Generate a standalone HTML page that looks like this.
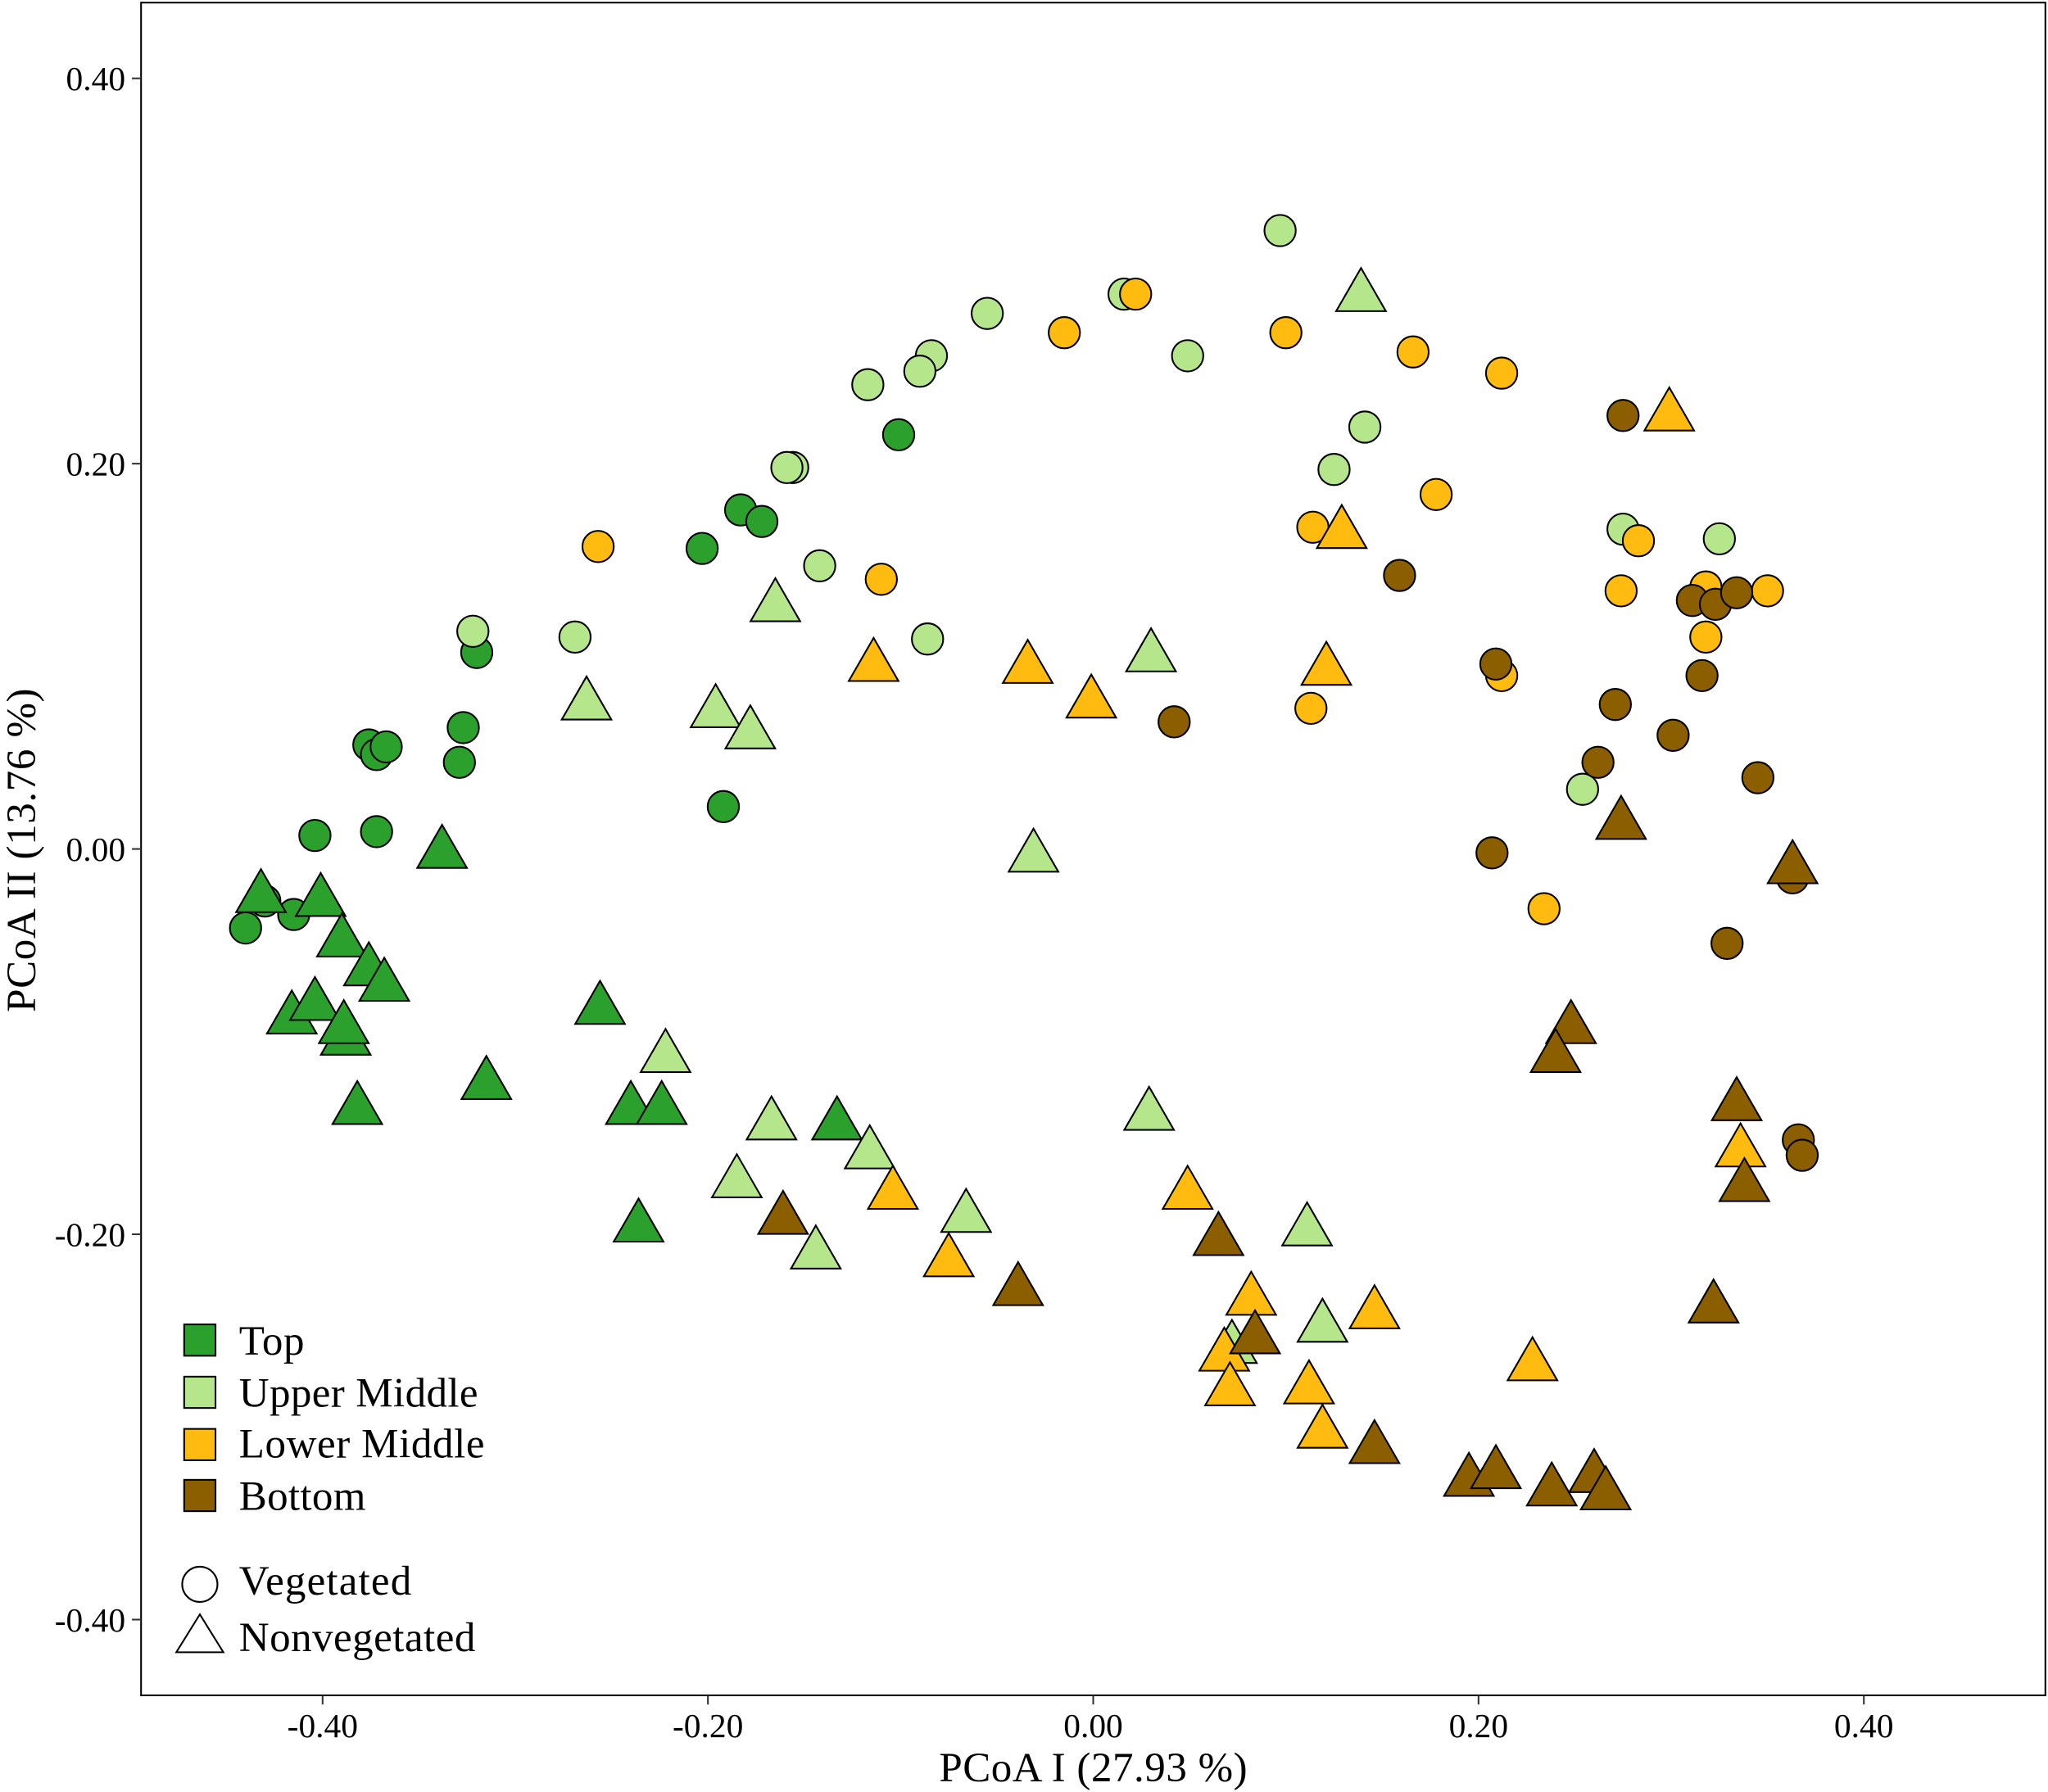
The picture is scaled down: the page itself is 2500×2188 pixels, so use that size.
<!DOCTYPE html>
<html><head><meta charset="utf-8"><style>html,body{margin:0;padding:0;background:#fff}svg{display:block}</style></head>
<body>
<svg id="chart" width="2500" height="2188" viewBox="0 0 1568 1372" preserveAspectRatio="none" xmlns="http://www.w3.org/2000/svg" font-family="'Liberation Serif', serif">
<rect x="108" y="2" width="1458" height="1296" fill="#fff" stroke="#000" stroke-width="1.3"/>
<g id="axes"></g>
<g id="points"></g>
<g id="legend">
  <rect x="141" y="1014" width="24" height="24" fill="#2ca02c" stroke="#000" stroke-width="1.3"/>
  <text x="183" y="1037" font-size="32" textLength="50">Top</text>
  <rect x="141" y="1054" width="24" height="24" fill="#b5e68c" stroke="#000" stroke-width="1.3"/>
  <text x="183" y="1077" font-size="32" textLength="183">Upper Middle</text>
  <rect x="141" y="1094" width="24" height="24" fill="#ffbb0f" stroke="#000" stroke-width="1.3"/>
  <text x="183" y="1116" font-size="32" textLength="188">Lower Middle</text>
  <rect x="141" y="1133" width="24" height="24" fill="#8b5e00" stroke="#000" stroke-width="1.3"/>
  <text x="183" y="1156" font-size="32" textLength="97">Bottom</text>
  <circle cx="153" cy="1213" r="13.5" fill="#fff" stroke="#000" stroke-width="1.3"/>
  <text x="183" y="1221" font-size="32" textLength="132">Vegetated</text>
  <polygon points="153,1236 135,1265 171,1265" fill="#fff" stroke="#000" stroke-width="1.3"/>
  <text x="183" y="1264" font-size="32" textLength="181">Nonvegetated</text>
</g>
<text x="837" y="1364" font-size="32" text-anchor="middle" textLength="236">PCoA I (27.93 %)</text>
<text x="0" y="0" font-size="32" text-anchor="middle" textLength="248" transform="translate(27,651) rotate(-90)">PCoA II (13.76 %)</text>
</svg>
<script>
const xTicks=[-0.4,-0.2,0,0.2,0.4];
const yTicks=[-0.4,-0.2,0,0.2,0.4];
const groups=["Top","Upper Middle","Lower Middle","Bottom"];
const groupColors=["#2ca02c","#b5e68c","#ffbb0f","#8b5e00"];
// Vegetated (circles)
const topCircX=[-0.101,-0.183,-0.172,-0.203,-0.320,-0.327,-0.329,-0.376,-0.372,-0.367,-0.404,-0.372,-0.192,-0.440,-0.430,-0.415];
const topCircY=[0.215,0.176,0.170,0.156,0.102,0.063,0.045,0.054,0.049,0.053,0.007,0.009,0.022,-0.041,-0.027,-0.034];
const umCircX=[0.097,0.016,-0.055,-0.084,-0.090,-0.117,0.049,-0.156,-0.159,0.141,0.125,-0.142,-0.269,-0.322,-0.086,0.275,0.325,0.254];
const umCircY=[0.321,0.288,0.278,0.256,0.248,0.241,0.256,0.198,0.198,0.219,0.197,0.147,0.110,0.113,0.109,0.166,0.161,0.031];
const lmCircX=[-0.015,0.022,0.100,0.166,0.212,0.178,0.114,0.283,-0.257,-0.110,0.274,0.318,0.350,0.318,0.212,0.113,0.234];
const lmCircY=[0.268,0.288,0.268,0.258,0.247,0.184,0.167,0.160,0.157,0.140,0.134,0.136,0.134,0.110,0.090,0.073,-0.031];
const btCircX=[0.275,0.159,0.042,0.209,0.271,0.262,0.301,0.311,0.323,0.334,0.316,0.345,0.207,0.363,0.329,0.366,0.368];
const btCircY=[0.225,0.142,0.066,0.096,0.075,0.045,0.059,0.129,0.127,0.133,0.090,0.037,-0.002,-0.015,-0.049,-0.151,-0.159];
// Nonvegetated (triangles)
const topTriX=[-0.338,-0.432,-0.401,-0.390,-0.376,-0.368,-0.416,-0.404,-0.388,-0.389,-0.382,-0.315,-0.256,-0.240,-0.224,-0.133,-0.236];
const topTriY=[-0.001,-0.024,-0.026,-0.047,-0.062,-0.070,-0.087,-0.080,-0.098,-0.092,-0.134,-0.121,-0.082,-0.134,-0.134,-0.142,-0.195];
const umTriX=[0.139,-0.165,-0.263,-0.196,-0.178,0.030,-0.031,-0.222,-0.167,0.029,-0.116,-0.185,-0.144,-0.066,0.111,0.119,0.072];
const umTriY=[0.288,0.127,0.076,0.072,0.061,0.101,-0.003,-0.107,-0.142,-0.137,-0.157,-0.172,-0.209,-0.190,-0.197,-0.247,-0.258];
const lmTriX=[0.299,0.129,-0.114,-0.034,-0.001,0.121,-0.104,0.049,-0.075,0.082,0.068,0.071,0.146,0.112,0.119,0.228,0.336];
const lmTriY=[0.226,0.165,0.096,0.095,0.077,0.094,-0.178,-0.178,-0.213,-0.233,-0.262,-0.280,-0.240,-0.279,-0.302,-0.267,-0.156];
const btTriX=[0.274,0.363,0.248,0.240,0.334,0.338,0.322,-0.161,-0.039,0.065,0.084,0.146,0.195,0.209,0.238,0.260,0.266];
const btTriY=[0.014,-0.009,-0.092,-0.107,-0.132,-0.174,-0.237,-0.191,-0.228,-0.202,-0.253,-0.310,-0.327,-0.323,-0.332,-0.325,-0.334];

const NS="http://www.w3.org/2000/svg";
function sx(v){return 837+v*1475;}
function sy(v){return 650-v*1475;}
function fmt(v){return v.toFixed(2);}
const axes=document.getElementById('axes');
xTicks.forEach(t=>{
  const l=document.createElementNS(NS,'line');
  l.setAttribute('x1',sx(t));l.setAttribute('x2',sx(t));l.setAttribute('y1',1298);l.setAttribute('y2',1305);
  l.setAttribute('stroke','#333');l.setAttribute('stroke-width','1.3');
  
  
  axes.appendChild(l);
  const tx=document.createElementNS(NS,'text');
  tx.setAttribute('x',sx(t));tx.setAttribute('y',1330);tx.setAttribute('font-size','26');tx.setAttribute('text-anchor','middle');
  tx.textContent=fmt(t);
  
  
  axes.appendChild(tx);
});
yTicks.forEach(t=>{
  const l=document.createElementNS(NS,'line');
  l.setAttribute('x1',101);l.setAttribute('x2',108);l.setAttribute('y1',sy(t));l.setAttribute('y2',sy(t));
  l.setAttribute('stroke','#333');l.setAttribute('stroke-width','1.3');
  
  
  axes.appendChild(l);
  const tx=document.createElementNS(NS,'text');
  tx.setAttribute('x',96);tx.setAttribute('y',sy(t)+9);tx.setAttribute('font-size','26');tx.setAttribute('text-anchor','end');
  tx.textContent=fmt(t);
  
  
  axes.appendChild(tx);
});
const pts=document.getElementById('points');
function circles(xs,ys,col,name){
  xs.forEach((x,i)=>{
    const c=document.createElementNS(NS,'circle');
    c.setAttribute('cx',sx(x));c.setAttribute('cy',sy(ys[i]));c.setAttribute('r',12);
    c.setAttribute('fill',col);c.setAttribute('stroke','#000');c.setAttribute('stroke-width','1.3');
    
    
    pts.appendChild(c);
  });
}
function tris(xs,ys,col,name){
  xs.forEach((x,i)=>{
    const cx=sx(x),cy=sy(ys[i]);
    const p=document.createElementNS(NS,'polygon');
    p.setAttribute('points',`${cx},${cy-20} ${cx-19},${cy+13} ${cx+19},${cy+13}`);
    p.setAttribute('fill',col);p.setAttribute('stroke','#000');p.setAttribute('stroke-width','1.3');
    
    
    pts.appendChild(p);
  });
}
circles(topCircX,topCircY,groupColors[0],'point-top-vegetated');
circles(umCircX,umCircY,groupColors[1],'point-upper-middle-vegetated');
circles(lmCircX,lmCircY,groupColors[2],'point-lower-middle-vegetated');
circles(btCircX,btCircY,groupColors[3],'point-bottom-vegetated');
tris(topTriX,topTriY,groupColors[0],'point-top-nonvegetated');
tris(umTriX,umTriY,groupColors[1],'point-upper-middle-nonvegetated');
tris(lmTriX,lmTriY,groupColors[2],'point-lower-middle-nonvegetated');
tris(btTriX,btTriY,groupColors[3],'point-bottom-nonvegetated');
</script>
</body></html>
